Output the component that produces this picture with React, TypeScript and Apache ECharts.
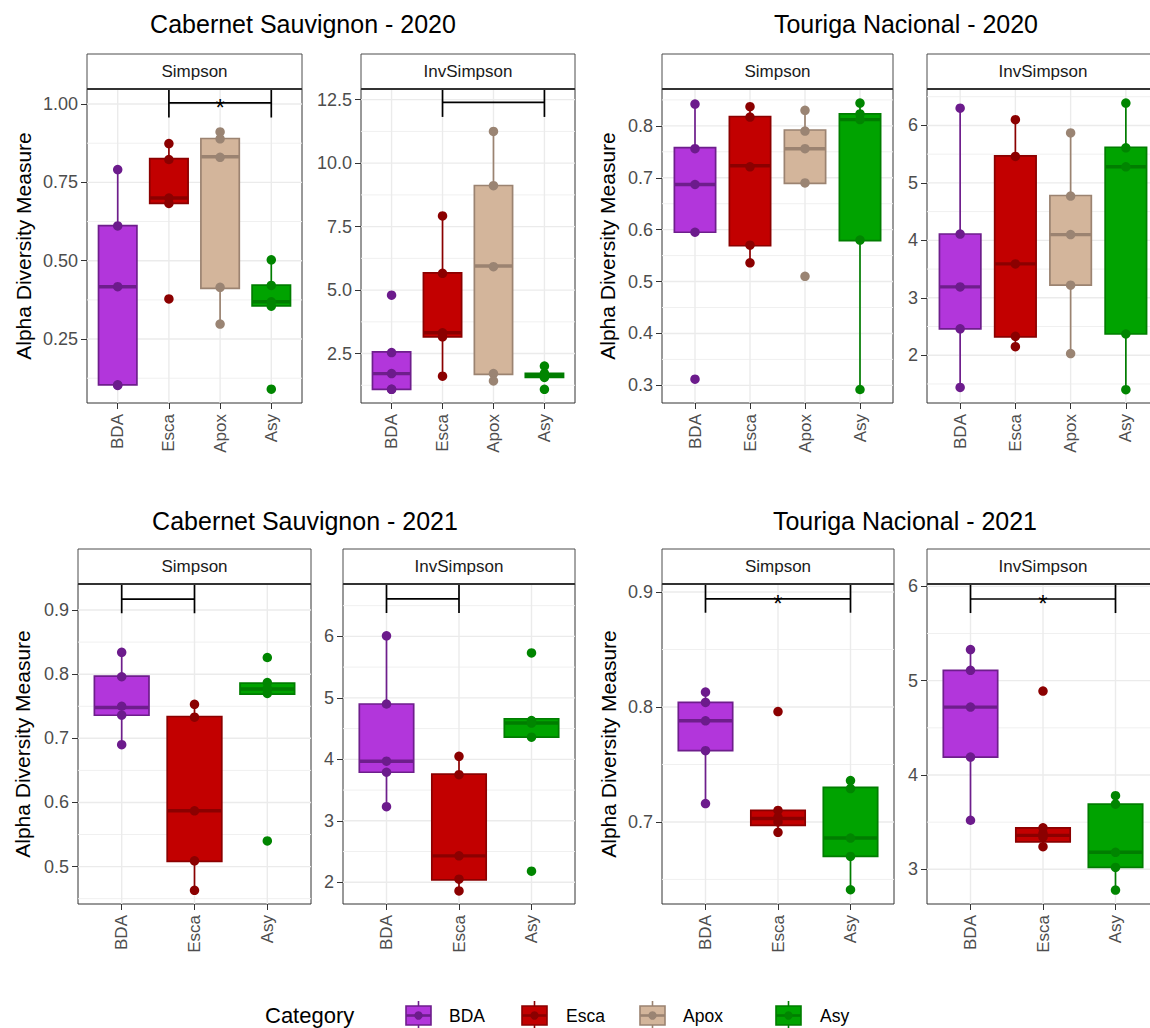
import React, { useEffect, useRef } from "react";
import * as echarts from "echarts";

const FONT = "'Liberation Sans', Arial, Helvetica, sans-serif";

const CATS4 = ["BDA", "Esca", "Apox", "Asy"];
const CATS3 = ["BDA", "Esca", "Asy"];
const STRIPS = ["Simpson", "InvSimpson"];
const TITLES = [
  "Cabernet Sauvignon - 2020",
  "Touriga Nacional - 2020",
  "Cabernet Sauvignon - 2021",
  "Touriga Nacional - 2021",
];
const Y_NAME = "Alpha Diversity Measure";
const LEGEND_TITLE = "Category";
const LEGEND_CATS = ["BDA", "Esca", "Apox", "Asy"];

const FILL: Record<string, string> = { BDA: "#B236DB", Esca: "#C20000", Apox: "#D3B59B", Asy: "#00A300" };
const EDGE: Record<string, string> = { BDA: "#6E1E8C", Esca: "#8B0000", Apox: "#9B8371", Asy: "#007D00" };
const POINT: Record<string, string> = { BDA: "#6C1B8C", Esca: "#8B0000", Apox: "#9A8473", Asy: "#008500" };

// ---------- Cabernet Sauvignon 2020 - Simpson ----------
const cs2020SimpsonPoints = [
  [0.791, 0.611, 0.417, 0.104, 0.102],
  [0.874, 0.823, 0.7, 0.683, 0.378],
  [0.911, 0.889, 0.83, 0.415, 0.298],
  [0.503, 0.421, 0.369, 0.355, 0.09],
];
// lower whisker, Q1, median, Q3, upper whisker
const cs2020SimpsonBoxes = [
  [0.104, 0.104, 0.417, 0.612, 0.791],
  [0.683, 0.683, 0.7, 0.826, 0.874],
  [0.298, 0.412, 0.832, 0.89, 0.911],
  [0.355, 0.356, 0.369, 0.422, 0.503],
];
const cs2020SimpsonTicks = [0.25, 0.5, 0.75, 1.0];
const cs2020SimpsonMinor = [0.125, 0.375, 0.625, 0.875];
const cs2020SimpsonRange = [0.046, 1.048];
const cs2020SimpsonBracket = [2, 4, 1.004, 0.957, "*"];

// ---------- Cabernet Sauvignon 2020 - InvSimpson ----------
const cs2020InvPoints = [
  [4.8, 2.54, 1.71, 1.09, 1.09],
  [7.92, 5.66, 3.32, 3.16, 1.61],
  [11.25, 9.11, 5.92, 1.71, 1.42],
  [2.01, 1.72, 1.64, 1.56, 1.09],
];
const cs2020InvBoxes = [
  [1.09, 1.09, 1.71, 2.57, 2.57],
  [1.61, 3.16, 3.32, 5.68, 7.92],
  [1.42, 1.68, 5.95, 9.12, 11.25],
  [1.56, 1.56, 1.64, 1.72, 2.01],
];
const cs2020InvTicks = [2.5, 5.0, 7.5, 10.0, 12.5];
const cs2020InvMinor = [1.25, 3.75, 6.25, 8.75, 11.25];
const cs2020InvRange = [0.553, 12.92];
const cs2020InvBracket = [2, 4, 12.39, 11.82, ""];

// ---------- Touriga Nacional 2020 - Simpson ----------
const tn2020SimpsonPoints = [
  [0.842, 0.756, 0.687, 0.595, 0.312],
  [0.837, 0.817, 0.721, 0.57, 0.536],
  [0.83, 0.79, 0.756, 0.69, 0.51],
  [0.844, 0.823, 0.812, 0.58, 0.292],
];
const tn2020SimpsonBoxes = [
  [0.595, 0.595, 0.687, 0.758, 0.842],
  [0.536, 0.569, 0.723, 0.818, 0.837],
  [0.689, 0.689, 0.756, 0.792, 0.83],
  [0.292, 0.579, 0.812, 0.823, 0.844],
];
const tn2020SimpsonTicks = [0.3, 0.4, 0.5, 0.6, 0.7, 0.8];
const tn2020SimpsonMinor = [0.35, 0.45, 0.55, 0.65, 0.75, 0.85];
const tn2020SimpsonRange = [0.266, 0.871];

// ---------- Touriga Nacional 2020 - InvSimpson ----------
const tn2020InvPoints = [
  [6.3, 4.11, 3.19, 2.46, 1.44],
  [6.1, 5.46, 3.59, 2.33, 2.15],
  [5.87, 4.77, 4.1, 3.22, 2.03],
  [6.39, 5.61, 5.28, 2.37, 1.4],
];
const tn2020InvBoxes = [
  [1.44, 2.46, 3.19, 4.11, 6.3],
  [2.15, 2.32, 3.59, 5.47, 6.1],
  [2.03, 3.22, 4.1, 4.78, 5.87],
  [1.4, 2.37, 5.28, 5.62, 6.39],
];
const tn2020InvTicks = [2, 3, 4, 5, 6];
const tn2020InvMinor = [1.5, 2.5, 3.5, 4.5, 5.5, 6.5];
const tn2020InvRange = [1.169, 6.634];

// ---------- Cabernet Sauvignon 2021 - Simpson ----------
const cs2021SimpsonPoints = [
  [0.834, 0.796, 0.75, 0.736, 0.69],
  [0.753, 0.733, 0.587, 0.509, 0.463],
  [0.826, 0.787, 0.778, 0.77, 0.54],
];
const cs2021SimpsonBoxes = [
  [0.69, 0.736, 0.748, 0.797, 0.834],
  [0.463, 0.508, 0.587, 0.734, 0.753],
  [0.769, 0.769, 0.777, 0.786, 0.786],
];
const cs2021SimpsonTicks = [0.5, 0.6, 0.7, 0.8, 0.9];
const cs2021SimpsonMinor = [0.45, 0.55, 0.65, 0.75, 0.85];
const cs2021SimpsonRange = [0.4417, 0.9406];
const cs2021SimpsonBracket = [1, 2, 0.917, 0.895, ""];

// ---------- Cabernet Sauvignon 2021 - InvSimpson ----------
const cs2021InvPoints = [
  [6.01, 4.9, 3.97, 3.79, 3.23],
  [4.05, 3.75, 2.43, 2.05, 1.86],
  [5.73, 4.63, 4.59, 4.36, 2.18],
];
const cs2021InvBoxes = [
  [3.23, 3.79, 3.97, 4.9, 6.01],
  [1.86, 2.04, 2.43, 3.76, 4.05],
  [4.36, 4.36, 4.59, 4.66, 4.66],
];
const cs2021InvTicks = [2, 3, 4, 5, 6];
const cs2021InvMinor = [2.5, 3.5, 4.5, 5.5, 6.5];
const cs2021InvRange = [1.647, 6.852];
const cs2021InvBracket = [1, 2, 6.61, 6.38, ""];

// ---------- Touriga Nacional 2021 - Simpson ----------
const tn2021SimpsonPoints = [
  [0.813, 0.804, 0.788, 0.762, 0.716],
  [0.796, 0.71, 0.704, 0.7, 0.691],
  [0.736, 0.729, 0.686, 0.67, 0.641],
];
const tn2021SimpsonBoxes = [
  [0.716, 0.762, 0.788, 0.804, 0.813],
  [0.691, 0.697, 0.703, 0.71, 0.71],
  [0.641, 0.67, 0.686, 0.73, 0.736],
];
const tn2021SimpsonTicks = [0.7, 0.8, 0.9];
const tn2021SimpsonMinor = [0.65, 0.75, 0.85];
const tn2021SimpsonRange = [0.6286, 0.907];
const tn2021SimpsonBracket = [1, 3, 0.894, 0.882, "*"];

// ---------- Touriga Nacional 2021 - InvSimpson ----------
const tn2021InvPoints = [
  [5.33, 5.11, 4.72, 4.19, 3.52],
  [4.89, 3.44, 3.38, 3.34, 3.24],
  [3.78, 3.69, 3.18, 3.02, 2.78],
];
const tn2021InvBoxes = [
  [3.52, 4.19, 4.72, 5.11, 5.33],
  [3.24, 3.29, 3.36, 3.44, 3.44],
  [2.78, 3.02, 3.18, 3.69, 3.78],
];
const tn2021InvTicks = [3, 4, 5, 6];
const tn2021InvMinor = [3.5, 4.5, 5.5];
const tn2021InvRange = [2.632, 6.025];
const tn2021InvBracket = [1, 3, 5.866, 5.717, "*"];

type Panel = {
  cats: string[];
  pts: number[][];
  box: number[][];
  ticks: number[];
  minor: number[];
  range: number[];
  dec: number;
  bracket: any[] | null;
  strip: string;
  left: number;
  top: number;
  width: number;
  height: number;
  yName: boolean;
  nameGap: number;
};

const ROW1_TOP = 89;
const ROW1_H = 314;
const ROW2_TOP = 584;
const ROW2_H = 320;
const STRIP_H = 35;

const PANELS: Panel[] = [
  { cats: CATS4, pts: cs2020SimpsonPoints, box: cs2020SimpsonBoxes, ticks: cs2020SimpsonTicks, minor: cs2020SimpsonMinor, range: cs2020SimpsonRange, dec: 2, bracket: cs2020SimpsonBracket, strip: STRIPS[0], left: 87, top: ROW1_TOP, width: 215, height: ROW1_H, yName: true, nameGap: 53 },
  { cats: CATS4, pts: cs2020InvPoints, box: cs2020InvBoxes, ticks: cs2020InvTicks, minor: cs2020InvMinor, range: cs2020InvRange, dec: 1, bracket: cs2020InvBracket, strip: STRIPS[1], left: 361, top: ROW1_TOP, width: 214, height: ROW1_H, yName: false, nameGap: 0 },
  { cats: CATS4, pts: tn2020SimpsonPoints, box: tn2020SimpsonBoxes, ticks: tn2020SimpsonTicks, minor: tn2020SimpsonMinor, range: tn2020SimpsonRange, dec: 1, bracket: null, strip: STRIPS[0], left: 662, top: ROW1_TOP, width: 231, height: ROW1_H, yName: true, nameGap: 44 },
  { cats: CATS4, pts: tn2020InvPoints, box: tn2020InvBoxes, ticks: tn2020InvTicks, minor: tn2020InvMinor, range: tn2020InvRange, dec: 0, bracket: null, strip: STRIPS[1], left: 927, top: ROW1_TOP, width: 232, height: ROW1_H, yName: false, nameGap: 0 },
  { cats: CATS3, pts: cs2021SimpsonPoints, box: cs2021SimpsonBoxes, ticks: cs2021SimpsonTicks, minor: cs2021SimpsonMinor, range: cs2021SimpsonRange, dec: 1, bracket: cs2021SimpsonBracket, strip: STRIPS[0], left: 78, top: ROW2_TOP, width: 233, height: ROW2_H, yName: true, nameGap: 45 },
  { cats: CATS3, pts: cs2021InvPoints, box: cs2021InvBoxes, ticks: cs2021InvTicks, minor: cs2021InvMinor, range: cs2021InvRange, dec: 0, bracket: cs2021InvBracket, strip: STRIPS[1], left: 343, top: ROW2_TOP, width: 232, height: ROW2_H, yName: false, nameGap: 0 },
  { cats: CATS3, pts: tn2021SimpsonPoints, box: tn2021SimpsonBoxes, ticks: tn2021SimpsonTicks, minor: tn2021SimpsonMinor, range: tn2021SimpsonRange, dec: 1, bracket: tn2021SimpsonBracket, strip: STRIPS[0], left: 662, top: ROW2_TOP, width: 232, height: ROW2_H, yName: true, nameGap: 43 },
  { cats: CATS3, pts: tn2021InvPoints, box: tn2021InvBoxes, ticks: tn2021InvTicks, minor: tn2021InvMinor, range: tn2021InvRange, dec: 0, bracket: tn2021InvBracket, strip: STRIPS[1], left: 927, top: ROW2_TOP, width: 232, height: ROW2_H, yName: false, nameGap: 0 },
];

const TITLE_POS = [
  [303, 24],
  [906, 24],
  [305, 521],
  [905, 521],
];
const LEGEND_KEY_X = [406, 522, 640, 776];
const LEGEND_LABEL_X = [449, 566, 683, 820];

function buildOption() {
  const grid: any[] = [];
  const xAxis: any[] = [];
  const yAxis: any[] = [];
  const series: any[] = [];
  const graphic: any[] = [];

  PANELS.forEach((p, i) => {
    const n = p.cats.length;
    const idx = p.cats.map((_, k) => k + 1);
    grid.push({
      left: p.left,
      top: p.top,
      width: p.width,
      height: p.height,
      show: true,
      backgroundColor: "#FFFFFF",
      borderColor: "#333333",
      borderWidth: 1,
      containLabel: false,
      outerBoundsMode: "none",
    });
    xAxis.push({
      type: "value",
      gridIndex: i,
      min: 0.4,
      max: n + 0.6,
      axisLine: { show: false },
      axisTick: { show: true, length: 6, customValues: idx, lineStyle: { color: "#333333", width: 1 } },
      axisLabel: {
        customValues: idx,
        formatter: (v: number) => p.cats[Math.round(v) - 1] || "",
        rotate: 90,
        fontSize: 17,
        color: "#4D4D4D",
        fontFamily: FONT,
        margin: 11,
      },
      splitLine: { show: false },
    });
    yAxis.push({
      type: "value",
      gridIndex: i,
      min: p.range[0],
      max: p.range[1],
      axisLine: { show: false },
      axisTick: { show: true, length: 6, customValues: p.ticks, lineStyle: { color: "#333333", width: 1 } },
      axisLabel: {
        customValues: p.ticks,
        formatter: (v: number) => v.toFixed(p.dec),
        fontSize: 18,
        color: "#4D4D4D",
        fontFamily: FONT,
        margin: 9,
      },
      splitLine: { show: false },
      name: p.yName ? Y_NAME : "",
      nameLocation: "middle",
      nameGap: p.nameGap,
      nameRotate: 90,
      nameTextStyle: { fontSize: 21, color: "#000000", fontFamily: FONT },
    });

    // gridlines
    const gridData: number[][] = [
      ...p.ticks.map((t) => [1, t, 0]),
      ...p.minor.map((t) => [1, t, 1]),
      ...idx.map((k) => [k, p.range[0], 2]),
    ];
    series.push({
      type: "custom",
      xAxisIndex: i,
      yAxisIndex: i,
      z: 1,
      silent: true,
      clip: true,
      data: gridData,
      renderItem: (params: any, api: any) => {
        const cs = params.coordSys;
        const kind = api.value(2);
        if (kind === 2) {
          const x = api.coord([api.value(0), api.value(1)])[0];
          return {
            type: "line",
            shape: { x1: x, y1: cs.y, x2: x, y2: cs.y + cs.height },
            style: { stroke: "#EBEBEB", lineWidth: 1.4 },
          };
        }
        const y = api.coord([1, api.value(1)])[1];
        return {
          type: "line",
          shape: { x1: cs.x, y1: y, x2: cs.x + cs.width, y2: y },
          style: { stroke: kind === 1 ? "#F0F0F0" : "#EBEBEB", lineWidth: kind === 1 ? 1 : 1.4 },
        };
      },
    });

    // boxes
    series.push({
      type: "custom",
      xAxisIndex: i,
      yAxisIndex: i,
      z: 2,
      silent: true,
      data: p.box.map((b, k) => [k + 1, b[0], b[1], b[2], b[3], b[4], k]),
      renderItem: (params: any, api: any) => {
        const x = api.value(0);
        const lo = api.value(1);
        const q1 = api.value(2);
        const med = api.value(3);
        const q3 = api.value(4);
        const hi = api.value(5);
        const cat = p.cats[api.value(6)];
        const half = 0.375;
        const pTop = api.coord([x - half, q3]);
        const pBot = api.coord([x + half, q1]);
        const pMedL = api.coord([x - half, med]);
        const pMedR = api.coord([x + half, med]);
        const pHi = api.coord([x, hi]);
        const pLo = api.coord([x, lo]);
        const cx = pHi[0];
        const children: any[] = [];
        if (hi > q3) {
          children.push({
            type: "line",
            shape: { x1: cx, y1: pHi[1], x2: cx, y2: pTop[1] },
            style: { stroke: EDGE[cat], lineWidth: 1.7 },
          });
        }
        if (lo < q1) {
          children.push({
            type: "line",
            shape: { x1: cx, y1: pLo[1], x2: cx, y2: pBot[1] },
            style: { stroke: EDGE[cat], lineWidth: 1.7 },
          });
        }
        children.push({
          type: "rect",
          shape: { x: pTop[0], y: pTop[1], width: pBot[0] - pTop[0], height: pBot[1] - pTop[1] },
          style: { fill: FILL[cat], stroke: EDGE[cat], lineWidth: 1.7 },
        });
        children.push({
          type: "line",
          shape: { x1: pMedL[0], y1: pMedL[1], x2: pMedR[0], y2: pMedR[1] },
          style: { stroke: EDGE[cat], lineWidth: 3.4 },
        });
        return { type: "group", children };
      },
    });

    // points
    series.push({
      type: "scatter",
      xAxisIndex: i,
      yAxisIndex: i,
      z: 3,
      silent: true,
      symbol: "circle",
      symbolSize: 9.5,
      itemStyle: { opacity: 1 },
      data: p.pts.flatMap((arr, k) =>
        arr.map((v) => ({ value: [k + 1, v], itemStyle: { color: POINT[p.cats[k]], opacity: 1 } }))
      ),
    });

    // significance bracket
    if (p.bracket) {
      series.push({
        type: "custom",
        xAxisIndex: i,
        yAxisIndex: i,
        z: 4,
        silent: true,
        clip: false,
        data: [[p.bracket[0], p.bracket[1], p.bracket[2], p.bracket[3]]],
        renderItem: (params: any, api: any) => {
          const cs = params.coordSys;
          const a = api.coord([api.value(0), api.value(2)]);
          const b = api.coord([api.value(1), api.value(2)]);
          const tip = api.coord([api.value(0), api.value(3)]);
          const st = { stroke: "#000000", lineWidth: 1.7 };
          const children: any[] = [
            { type: "line", shape: { x1: a[0], y1: cs.y, x2: a[0], y2: tip[1] }, style: st },
            { type: "line", shape: { x1: b[0], y1: cs.y, x2: b[0], y2: tip[1] }, style: st },
            { type: "line", shape: { x1: a[0], y1: a[1], x2: b[0], y2: b[1] }, style: st },
          ];
          if (p.bracket && p.bracket[4]) {
            children.push({
              type: "text",
              x: (a[0] + b[0]) / 2,
              y: a[1] + 5,
              style: {
                text: p.bracket[4],
                fontSize: 24,
                fontFamily: FONT,
                fill: "#000000",
                align: "center",
                verticalAlign: "middle",
              },
            });
          }
          return { type: "group", children };
        },
      });
    }

    // strip
    graphic.push({
      type: "rect",
      shape: { x: p.left, y: p.top - STRIP_H, width: p.width, height: STRIP_H },
      style: { fill: "#FFFFFF", stroke: "#4D4D4D", lineWidth: 1 },
      z: 10,
    });
    graphic.push({
      type: "line",
      shape: { x1: p.left, y1: p.top, x2: p.left + p.width, y2: p.top },
      style: { stroke: "#333333", lineWidth: 2 },
      z: 11,
    });
    graphic.push({
      type: "text",
      x: p.left + p.width / 2,
      y: p.top - STRIP_H / 2,
      style: {
        text: p.strip,
        fontSize: 17,
        fontFamily: FONT,
        fill: "#1A1A1A",
        align: "center",
        verticalAlign: "middle",
      },
      z: 12,
    });
  });

  TITLES.forEach((t, i) => {
    graphic.push({
      type: "text",
      x: TITLE_POS[i][0],
      y: TITLE_POS[i][1],
      style: {
        text: t,
        fontSize: 25,
        fontFamily: FONT,
        fill: "#000000",
        align: "center",
        verticalAlign: "middle",
      },
      z: 12,
    });
  });

  // legend
  const ly = 1015;
  graphic.push({
    type: "text",
    x: 265,
    y: ly,
    style: { text: LEGEND_TITLE, fontSize: 22, fontFamily: FONT, fill: "#000000", align: "left", verticalAlign: "middle" },
    z: 12,
  });
  LEGEND_CATS.forEach((c, i) => {
    const kx = LEGEND_KEY_X[i];
    const cx = kx + 12.5;
    graphic.push({
      type: "group",
      z: 12,
      children: [
        { type: "line", shape: { x1: cx, y1: ly - 14, x2: cx, y2: ly + 14 }, style: { stroke: EDGE[c], lineWidth: 1.6 } },
        { type: "rect", shape: { x: kx, y: ly - 9, width: 25, height: 19 }, style: { fill: FILL[c], stroke: EDGE[c], lineWidth: 1.6 } },
        { type: "line", shape: { x1: kx, y1: ly + 0.5, x2: kx + 25, y2: ly + 0.5 }, style: { stroke: EDGE[c], lineWidth: 2.6 } },
        { type: "circle", shape: { cx, cy: ly + 0.5, r: 4.2 }, style: { fill: POINT[c] } },
      ],
    });
    graphic.push({
      type: "text",
      x: LEGEND_LABEL_X[i],
      y: ly + 1,
      style: { text: c, fontSize: 17.5, fontFamily: FONT, fill: "#000000", align: "left", verticalAlign: "middle" },
      z: 12,
    });
  });

  return {
    animation: false,
    backgroundColor: "#FFFFFF",
    textStyle: { fontFamily: FONT },
    grid,
    xAxis,
    yAxis,
    series,
    graphic,
  };
}

export default function App() {
  const ref = useRef<HTMLDivElement | null>(null);
  useEffect(() => {
    if (!ref.current) return;
    const chart = echarts.init(ref.current, undefined, { renderer: "svg" });
    chart.setOption(buildOption() as any);
    return () => {
      chart.dispose();
    };
  }, []);
  return (
    <div
      ref={ref}
      style={{ position: "absolute", left: 0, top: 0, width: 1150, height: 1028, overflow: "hidden" }}
    />
  );
}
